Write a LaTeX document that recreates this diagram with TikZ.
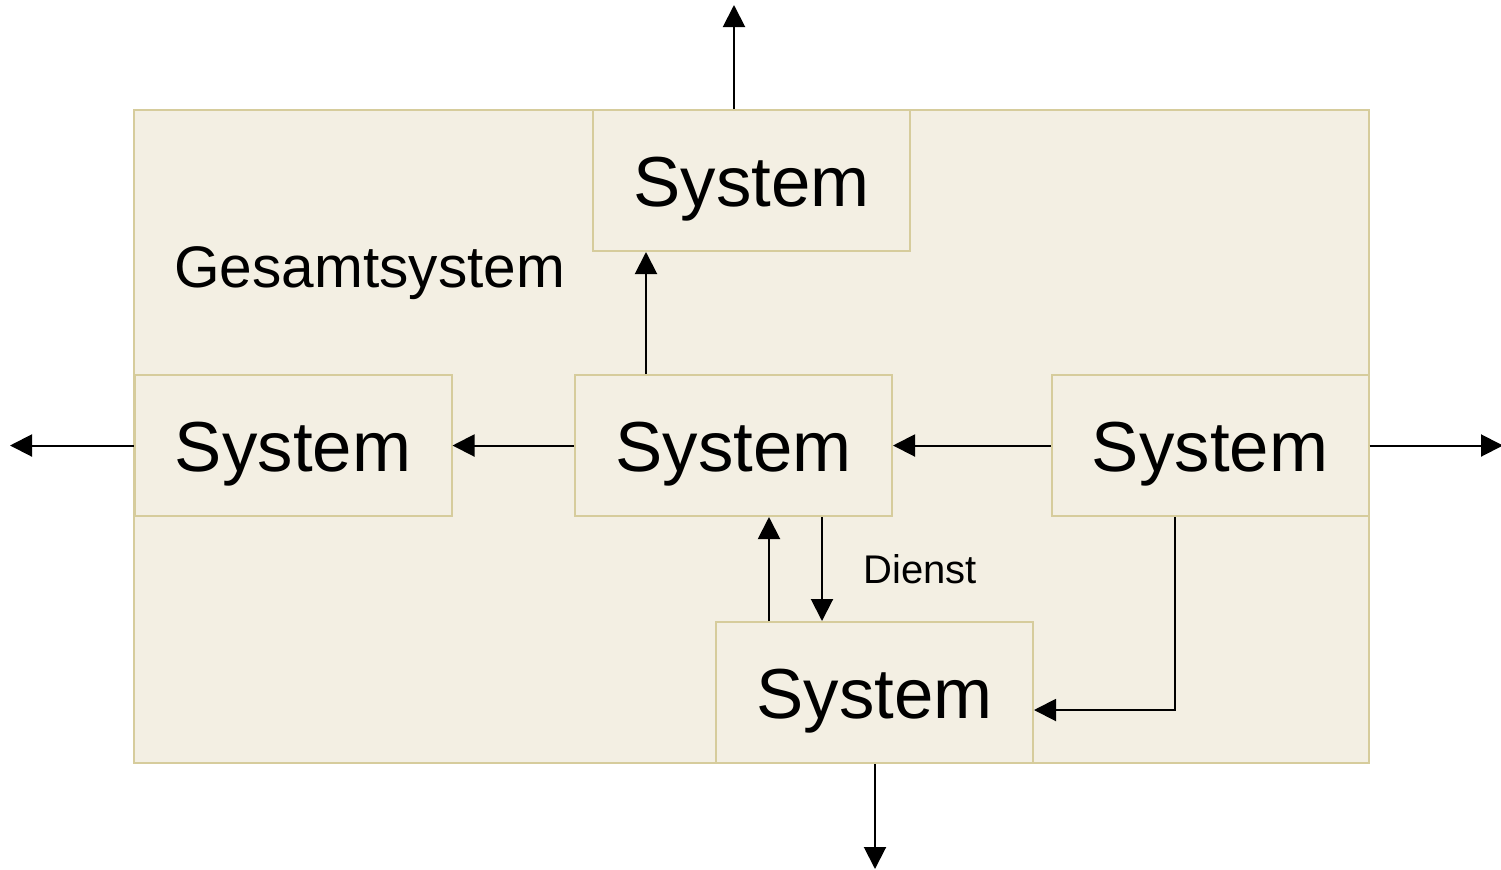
\documentclass[tikz,border=0pt]{standalone}
\usepackage{fontspec}
\setmainfont{Liberation Sans}
\usetikzlibrary{arrows.meta}
\definecolor{paper}{HTML}{F3EFE3}
\definecolor{rim}{HTML}{D6CC9C}
\tikzset{
  frame/.style={draw=rim, fill=paper, line width=1pt, inner sep=0pt},
  sysbox/.style={frame, minimum width=158.5pt, minimum height=70.5pt,
    font=\fontsize{35.4}{42}\selectfont, text height=25.5pt, text depth=0pt},
  flow/.style={draw=black, line width=1pt, -{Triangle[length=11pt,width=11pt]}},
  caption/.style={inner sep=0pt, anchor=base west}
}
\begin{document}
\begin{tikzpicture}[x=0.5pt, y=-0.5pt]
  \useasboundingbox (0,0) rectangle (1501,869);

  % enclosing system
  \node[frame, minimum width=617.5pt, minimum height=326.5pt] (whole) at (751.5,436.5) {};
  \node[caption, font=\fontsize{29.3}{35}\selectfont] (title) at (174,287) {Gesamtsystem};

  % subsystems
  \node[sysbox] (top)    at (751.5,180.5) {System};
  \node[sysbox] (left)   at (293,445.5)   {System};
  \node[sysbox] (center) at (733.5,445.5) {System};
  \node[sysbox] (right)  at (1210,445.5)  {System};
  \node[sysbox] (bottom) at (874.5,692.5) {System};

  % free ends and routing points
  \coordinate (topout)   at (734,5);
  \coordinate (leftout)  at (10,445.5);
  \coordinate (rightout) at (1503,445.5);
  \coordinate (botout)   at (875,869);
  \coordinate (up)       at (646,0);
  \coordinate (back)     at (769,0);
  \coordinate (serve)    at (822,0);
  \coordinate (bend)     at (1175,710);

  % outputs to the environment
  \draw[flow] (top.north -| topout) -- (topout);
  \draw[flow] (left.west) -- (leftout);
  \draw[flow] (right.east) -- (rightout);
  \draw[flow] (bottom.south -| botout) -- (botout);

  % internal relations
  \draw[flow] (center.north -| up) -- (top.south -| up);
  \draw[flow] (center.west) -- (left.east);
  \draw[flow] (right.west) -- (center.east);
  \draw[flow] (bottom.north -| back) -- (center.south -| back);
  \draw[flow] (center.south -| serve) -- (bottom.north -| serve);
  \draw[flow] (right.south -| bend) -- (bend) -- (bottom.east |- bend);

  \node[caption, font=\fontsize{20}{24}\selectfont] (service) at (863,583) {Dienst};
\end{tikzpicture}
\end{document}
